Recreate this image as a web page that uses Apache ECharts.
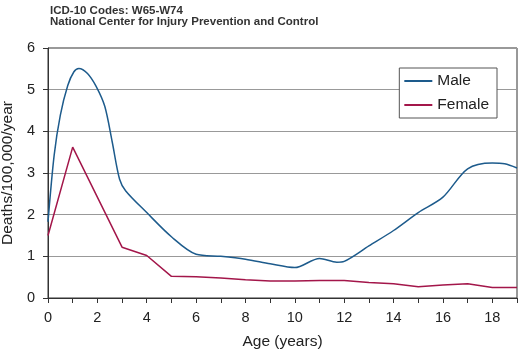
<!DOCTYPE html>
<html>
<head>
<meta charset="utf-8">
<script src="https://cdn.jsdelivr.net/npm/echarts@6/dist/echarts.min.js"></script>
<style>
  html, body { margin: 0; padding: 0; background: #fff; }
  #chart { width: 518px; height: 350px; }
</style>
</head>
<body>
<div id="chart"></div>
<script>
// values
let maleAges = [0, 0.25, 0.5, 0.8, 1.05, 1.25, 1.6, 1.95, 2.3, 2.6, 2.9, 3.15, 4, 5, 6, 7, 8, 9, 10, 11, 11.7, 12, 13, 14, 15, 16, 17, 18, 18.5, 19]
let maleValues = [1.83, 3.43, 4.39, 5.1, 5.43, 5.51, 5.39, 5.08, 4.6, 3.75, 2.85, 2.57, 2.05, 1.47, 1.05, 1.0, 0.93, 0.82, 0.73, 0.95, 0.86, 0.88, 1.25, 1.62, 2.05, 2.42, 3.1, 3.24, 3.22, 3.12]
let femaleAges = [0, 1, 3, 4, 5, 6, 7, 8, 9, 10, 11, 12, 13, 14, 15, 16, 17, 18, 19]
let femaleValues = [1.5, 3.62, 1.22, 1.02, 0.52, 0.51, 0.48, 0.44, 0.41, 0.41, 0.42, 0.42, 0.37, 0.34, 0.27, 0.31, 0.34, 0.25, 0.25]
let titleLines = ['ICD-10 Codes: W65-W74', 'National Center for Injury Prevention and Control']

const font = '"Liberation Sans", Arial, Helvetica, sans-serif'
const pairs = (xs, ys) => xs.map((x, i) => [x, ys[i]])

let chart = echarts.init(document.getElementById('chart'), null, { renderer: 'canvas' })
chart.setOption({
  animation: false,
  textStyle: { fontFamily: font },
  title: {
    text: titleLines.join('\n'),
    left: 45,
    top: 0,
    textStyle: { fontFamily: font, fontSize: 11.5, fontWeight: 'bold', color: '#333', lineHeight: 11.5 }
  },
  grid: {
    left: 48, right: 1, top: 48, bottom: 52,
    outerBoundsMode: 'none',
    containLabel: false,
    show: true, borderColor: '#333', borderWidth: 1
  },
  legend: {
    orient: 'vertical',
    right: 21, top: 68,
    padding: [5, 8, 5, 5],
    itemGap: 8,
    itemWidth: 28, itemHeight: 2,
    icon: 'rect',
    backgroundColor: '#fff',
    borderColor: '#555', borderWidth: 1, borderRadius: 0,
    textStyle: { fontFamily: font, fontSize: 15.5, color: '#222' },
    data: ['Male', 'Female']
  },
  xAxis: {
    type: 'value',
    min: 0, max: 19, interval: 1,
    name: 'Age (years)',
    nameLocation: 'middle',
    nameGap: 36,
    nameTextStyle: { fontFamily: font, fontSize: 15.5, color: '#222' },
    axisLine: { show: true, lineStyle: { color: '#333', width: 1 } },
    axisTick: { show: true, length: 5, lineStyle: { color: '#333' } },
    axisLabel: {
      fontFamily: font, fontSize: 14.5, color: '#222', margin: 12,
      formatter: v => (v % 2 === 0 ? String(v) : '')
    },
    splitLine: { show: false }
  },
  yAxis: {
    type: 'value',
    min: 0, max: 6, interval: 1,
    name: 'Deaths/100,000/year',
    nameLocation: 'middle',
    nameGap: 32,
    nameTextStyle: { fontFamily: font, fontSize: 15.5, color: '#222' },
    axisLine: { show: true, lineStyle: { color: '#333', width: 1 } },
    axisTick: { show: true, length: 5, lineStyle: { color: '#333' } },
    axisLabel: { fontFamily: font, fontSize: 14.5, color: '#222', margin: 13 },
    splitLine: { show: true, lineStyle: { color: '#999', width: 1 } }
  },
  series: [
    {
      name: 'Male',
      type: 'line',
      smooth: 0.3,
      showSymbol: false,
      color: '#1d5b8c',
      lineStyle: { width: 1.5, color: '#1d5b8c' },
      data: pairs(maleAges, maleValues)
    },
    {
      name: 'Female',
      type: 'line',
      smooth: false,
      showSymbol: false,
      color: '#a3164a',
      lineStyle: { width: 1.5, color: '#a3164a' },
      data: pairs(femaleAges, femaleValues)
    }
  ]
})
</script>
</body>
</html>
